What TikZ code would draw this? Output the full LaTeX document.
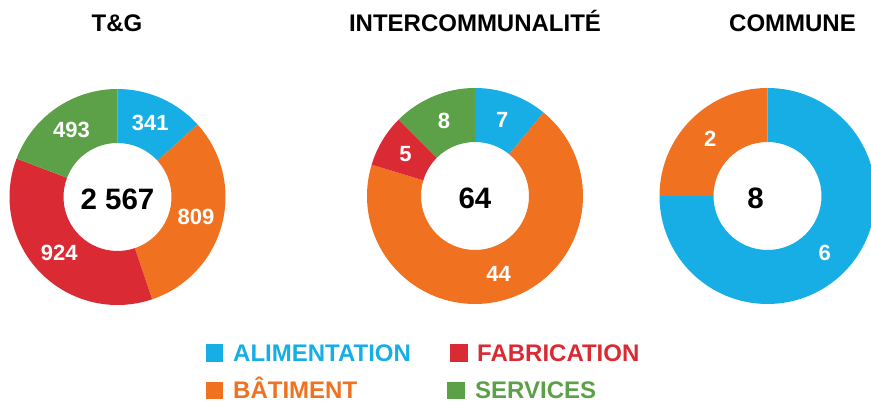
\documentclass[tikz,border=0pt]{standalone}
\usepackage{fontspec}
\setmainfont{Liberation Sans}
\usetikzlibrary{calc}

\definecolor{alim}{RGB}{22,174,229}
\definecolor{bati}{RGB}{240,114,33}
\definecolor{fabr}{RGB}{218,43,53}
\definecolor{serv}{RGB}{92,160,72}

% ring slice: centre, from, to, colour, value
\newcommand{\ringslice}[5]{%
  \fill[#4] (#1) ++(#2:108) arc[start angle=#2, end angle=#3, radius=108]
    -- ($(#1)+(#3:54)$) arc[start angle=#3, end angle=#2, radius=54] -- cycle;
  \node[slicelabel] (#1-#5) at ($(#1)+({(#2+#3)/2}:81)$) {#5};
}

\begin{document}
\begin{tikzpicture}[x=1pt, y=1pt,
      slicelabel/.style = {text=white, font=\fontsize{22}{22}\selectfont\bfseries},
      total/.style = {yshift=-2pt, font=\fontsize{29.5}{30}\selectfont\bfseries},
      charttitle/.style = {anchor=base, font=\fontsize{24}{24}\selectfont\bfseries},
      legbox/.style = {minimum size=17.5pt, inner sep=0pt},
      legtext/.style = {anchor=base west, inner sep=0pt,
        font=\fontsize{24}{24}\selectfont\bfseries}]
    \clip (0,0) rectangle (871,403);

    \coordinate (tg) at (117.5,206);
    \coordinate (inter) at (475,207);
    \coordinate (com) at (767.5,207);

    % T&G
    \node[charttitle] (tg-title) at (117,371) {T\&G};
    \ringslice{tg}{90}{42.18}{alim}{341}
    \ringslice{tg}{42.18}{-71.28}{bati}{809}
    \ringslice{tg}{-71.28}{-200.86}{fabr}{924}
    \ringslice{tg}{-200.86}{-270}{serv}{493}
    \node[total] (tg-total) at (tg) {2 567};

    % intercommunalite
    \node[charttitle] (inter-title) at (475,371) {INTERCOMMUNALITÉ};
    \ringslice{inter}{90}{50.625}{alim}{7}
    \ringslice{inter}{50.625}{-196.875}{bati}{44}
    \ringslice{inter}{-196.875}{-225}{fabr}{5}
    \ringslice{inter}{-225}{-270}{serv}{8}
    \node[total] (inter-total) at (inter) {64};

    % commune
    \node[charttitle] (com-title) at (792.5,371) {COMMUNE};
    \ringslice{com}{90}{-180}{alim}{6}
    \ringslice{com}{-180}{-270}{bati}{2}
    \node[total, xshift=-12pt] (com-total) at (com) {8};

    % legend
    \node[legbox, fill=alim] (alim-box) at (214.5,50) {};
    \node[legtext, text=alim] (alim-text) at (233,41) {ALIMENTATION};
    \node[legbox, fill=fabr] (fabr-box) at (459,50) {};
    \node[legtext, text=fabr] (fabr-text) at (477,41) {FABRICATION};
    \node[legbox, fill=bati] (bati-box) at (214.5,12.5) {};
    \node[legtext, text=bati] (bati-text) at (233,4) {BÂTIMENT};
    \node[legbox, fill=serv] (serv-box) at (456,12.5) {};
    \node[legtext, text=serv] (serv-text) at (475,4) {SERVICES};
\end{tikzpicture}
\end{document}
